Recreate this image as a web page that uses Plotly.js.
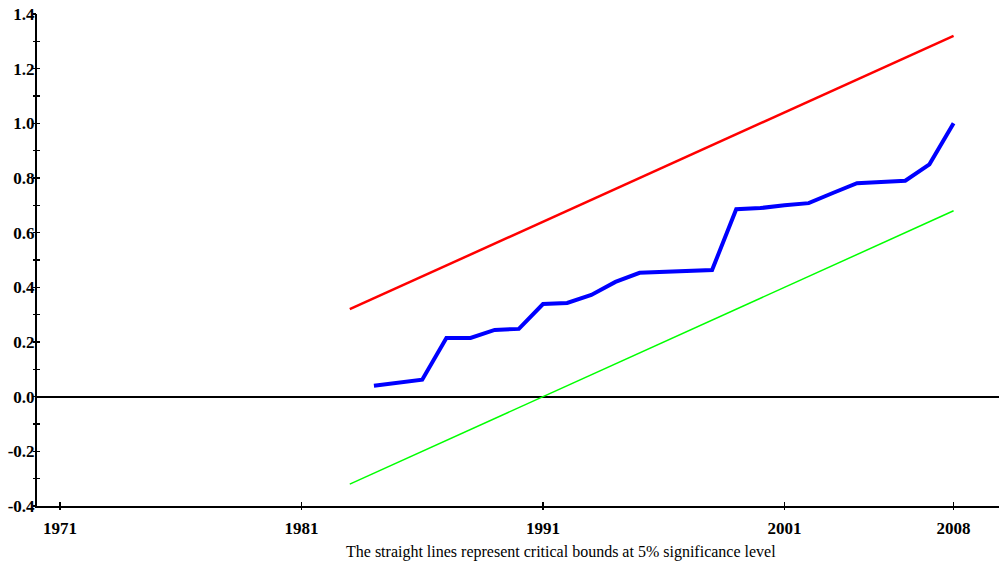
<!DOCTYPE html>
<html>
<head>
<meta charset="utf-8">
<script src="https://cdn.plot.ly/plotly-3.0.1.min.js"></script>
<style>html,body{margin:0;padding:0;background:#fff;}#chart{width:999px;height:570px;}</style>
</head>
<body>
<div id="chart"></div>
<script>
var boundYears = [1983,1984,1985,1986,1987,1988,1989,1990,1991,1992,1993,1994,1995,1996,1997,1998,1999,2000,2001,2002,2003,2004,2005,2006,2007,2008];
var upperBound = [0.32,0.36,0.40,0.44,0.48,0.52,0.56,0.60,0.64,0.68,0.72,0.76,0.80,0.84,0.88,0.92,0.96,1.00,1.04,1.08,1.12,1.16,1.20,1.24,1.28,1.32];
var lowerBound = [-0.32,-0.28,-0.24,-0.20,-0.16,-0.12,-0.08,-0.04,0.00,0.04,0.08,0.12,0.16,0.20,0.24,0.28,0.32,0.36,0.40,0.44,0.48,0.52,0.56,0.60,0.64,0.68];
var cusumYears = [1984,1985,1986,1987,1988,1989,1990,1991,1992,1993,1994,1995,1996,1997,1998,1999,2000,2001,2002,2003,2004,2005,2006,2007,2008];
var cusumSq = [0.040,0.050,0.062,0.215,0.215,0.244,0.248,0.339,0.343,0.372,0.420,0.453,0.456,0.457,0.463,0.686,0.690,0.700,0.708,0.745,0.781,0.785,0.790,0.850,1.000];
var xTickVals = [1971,1981,1991,2001,2008];
var xTickText = ['1971','1981','1991','2001','2008'];
var yTickVals = [-0.4,-0.2,0.0,0.2,0.4,0.6,0.8,1.0,1.2,1.4];
var yTickText = ['-0.4','-0.2','0.0','0.2','0.4','0.6','0.8','1.0','1.2','1.4'];
var caption = 'The straight lines represent critical bounds at 5% significance level';

var tickFont = {family: 'Liberation Serif, Times New Roman, serif', size: 17, color: '#000', weight: 'bold'};
var xr = [1970.05, 2009.88];
var yr = [-0.4, 1.4];

var traces = [
  {x: boundYears, y: upperBound, type: 'scatter', mode: 'lines', line: {color: '#ff0000', width: 2.5}, hoverinfo: 'skip'},
  {x: boundYears, y: lowerBound, type: 'scatter', mode: 'lines', line: {color: '#00ff00', width: 1.5}, hoverinfo: 'skip'},
  {x: cusumYears, y: cusumSq, type: 'scatter', mode: 'lines', line: {color: '#0000ff', width: 4}, hoverinfo: 'skip'},
  {x: [], y: [], xaxis: 'x2', yaxis: 'y2', type: 'scatter', mode: 'lines', hoverinfo: 'skip'}
];

var layout = {
  width: 999, height: 570,
  margin: {l: 37, r: 0, t: 14, b: 64, pad: 0},
  paper_bgcolor: '#fff', plot_bgcolor: '#fff',
  showlegend: false,
  xaxis: {
    range: xr, showgrid: false, zeroline: false,
    showline: true, linecolor: '#000', linewidth: 2,
    tickmode: 'array', tickvals: xTickVals, ticktext: xTickText,
    ticks: 'inside', ticklen: 4, tickwidth: 1.5, tickcolor: '#000',
    tickfont: tickFont, ticklabelstandoff: 6
  },
  yaxis: {
    range: yr, showgrid: false,
    zeroline: true, zerolinecolor: '#000', zerolinewidth: 2,
    showline: true, linecolor: '#000', linewidth: 2,
    tickmode: 'array', tickvals: yTickVals, ticktext: yTickText,
    ticks: 'inside', ticklen: 3, tickwidth: 1.5, tickcolor: '#000',
    minor: {dtick: 0.1, ticks: 'inside', ticklen: 3, tickwidth: 1.5, tickcolor: '#000', showgrid: false},
    tickfont: tickFont, ticklabelstandoff: -3
  },
  xaxis2: {
    range: xr, overlaying: 'x', anchor: 'y2', side: 'bottom',
    showgrid: false, zeroline: false, showline: false,
    tickmode: 'array', tickvals: xTickVals, ticks: 'outside', ticklen: 3, tickwidth: 1.5, tickcolor: '#000',
    showticklabels: false
  },
  yaxis2: {
    range: yr, overlaying: 'y', anchor: 'x2', side: 'left',
    showgrid: false, zeroline: false, showline: false,
    tickmode: 'linear', tick0: -0.4, dtick: 0.1, ticks: 'outside', ticklen: 3, tickwidth: 1.5, tickcolor: '#000',
    showticklabels: false
  },
  annotations: [{
    text: caption, xref: 'paper', yref: 'paper', x: 0.5446, y: -0.094, xanchor: 'center', yanchor: 'middle',
    showarrow: false, font: {family: 'Liberation Serif, Times New Roman, serif', size: 16, color: '#000'}
  }]
};

Plotly.newPlot('chart', traces, layout, {staticPlot: true, displayModeBar: false});
</script>
</body>
</html>
